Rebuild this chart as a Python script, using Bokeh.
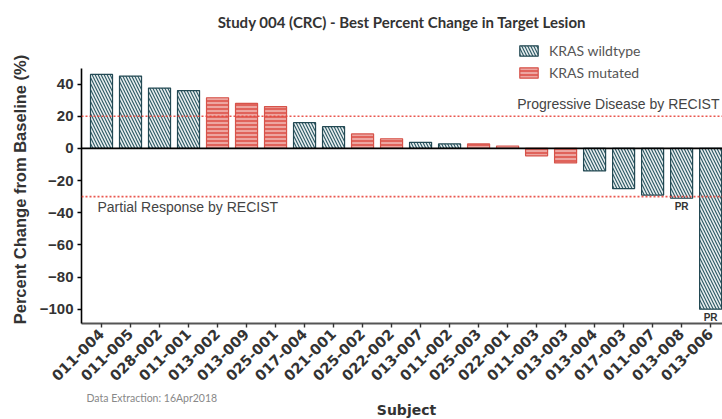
import numpy as np
from bokeh.plotting import figure
from bokeh.models import ColumnDataSource, Span, Label, Legend, LegendItem
from bokeh.core.properties import value
from bokeh.embed import file_html
from bokeh.resources import INLINE

# ---- data ----
subjects = ["011-004", "011-005", "028-002", "011-001", "013-002", "013-009",
            "025-001", "017-004", "021-001", "025-002", "022-002", "013-007",
            "011-002", "025-003", "022-001", "011-003", "013-003", "013-004",
            "017-003", "011-007", "013-008", "013-006"]
pct_change = [46, 45, 37.5, 36, 31.5, 28, 26, 16, 13.5, 9, 6, 3.8,
              2.8, 2.8, 1.5, -4.6, -9, -14, -25, -29, -31, -100]
kras = ["wildtype"] * 4 + ["mutated"] * 3 + ["wildtype"] * 2 + ["mutated"] * 2 + \
       ["wildtype"] * 2 + ["mutated"] * 4 + ["wildtype"] * 5
response = [""] * 20 + ["PR", "PR"]
y_ticks = [-100, -80, -60, -40, -20, 0, 20, 40]
pd_threshold = 20
pr_threshold = -30

pos = list(range(1, len(subjects) + 1))

TEAL = "#2d5a65"
TEAL_LINE = "#234953"
RED = "#e0635b"
RED_LINE = "#d6534a"

p = figure(width=722, height=419, x_range=(0.31, 22.41), y_range=(-108.9, 66.5),
           output_backend="svg", toolbar_location=None,
           min_border_left=81, min_border_right=0, min_border_top=38, min_border_bottom=96)
p.outline_line_color = None
p.xgrid.visible = False
p.ygrid.visible = False
p.background_fill_color = "white"
p.border_fill_color = "white"

p.title.text = "Study 004 (CRC) - Best Percent Change in Target Lesion"
p.title.align = "center"
p.title.offset = 4
p.title.text_font = "Lato"
p.title.text_font_style = "bold"
p.title.text_font_size = "15px"
p.title.text_color = "#333333"
p.title.standoff = 21

def subset(kind):
    idx = [i for i, k in enumerate(kras) if k == kind]
    return ColumnDataSource(dict(x=[pos[i] for i in idx], top=[pct_change[i] for i in idx]))

r_wt = p.vbar(x="x", top="top", bottom=0, width=0.76, source=subset("wildtype"),
              fill_color=TEAL, line_color=TEAL_LINE, line_width=1.2,
              hatch_pattern="\\", hatch_color="white", hatch_scale=6, hatch_weight=1.6, hatch_alpha=0.9)
r_mu = p.vbar(x="x", top="top", bottom=0, width=0.76, source=subset("mutated"),
              fill_color=RED, line_color=RED_LINE, line_width=1.2,
              hatch_pattern="-", hatch_color="white", hatch_scale=4, hatch_weight=1.0, hatch_alpha=0.85)

# zero line and thresholds
p.add_layout(Span(location=0, dimension="width", line_color="black", line_width=1.6))
for th in (pd_threshold, pr_threshold):
    p.add_layout(Span(location=th, dimension="width", line_color="#e8453c",
                      line_width=1.6, line_dash="2 2", line_alpha=0.9))

p.add_layout(Label(x=638, x_units="screen", y=pd_threshold, text="Progressive Disease by RECIST",
                   text_align="right", text_baseline="bottom", y_offset=4,
                   text_font="Liberation Sans", text_font_size="14px", text_color="#444444"))
p.add_layout(Label(x=16, x_units="screen", y=pr_threshold, text="Partial Response by RECIST",
                   text_align="left", text_baseline="top", y_offset=-2,
                   text_font="Liberation Sans", text_font_size="14px", text_color="#444444"))

# PR labels
pr_src = ColumnDataSource(dict(x=[pos[i] for i, r in enumerate(response) if r],
                               y=[pct_change[i] for i, r in enumerate(response) if r],
                               t=[r for r in response if r]))
p.text(x="x", y="y", text="t", source=pr_src, text_align="center", text_baseline="top",
       y_offset=3, text_font=value("Liberation Sans"), text_font_size="10px",
       text_font_style="bold", text_color="#333333")

# axes
p.yaxis.ticker = y_ticks
p.yaxis.bounds = (-110, 50)
p.yaxis.axis_line_color = "black"
p.yaxis.axis_line_width = 1.6
p.yaxis.major_tick_line_color = "black"
p.yaxis.major_tick_line_width = 1.4
p.yaxis.major_tick_out = 4
p.yaxis.major_tick_in = 0
p.yaxis.minor_tick_line_color = None
p.yaxis.major_label_text_font = "Liberation Sans"
p.yaxis.major_label_text_font_style = "bold"
p.yaxis.major_label_text_font_size = "15px"
p.yaxis.major_label_text_color = "#333333"
p.yaxis.major_label_standoff = 4

p.xaxis.ticker = pos
p.xaxis.major_label_overrides = {x: s for x, s in zip(pos, subjects)}
p.xaxis.major_label_orientation = np.pi / 4
p.xaxis.axis_line_color = "#555555"
p.xaxis.axis_line_width = 1.8
p.xaxis.major_tick_line_color = "#333333"
p.xaxis.major_tick_line_width = 1.4
p.xaxis.major_tick_out = 4
p.xaxis.major_tick_in = 0
p.xaxis.minor_tick_line_color = None
p.xaxis.major_label_text_font = "DejaVu Sans"
p.xaxis.major_label_text_font_style = "bold"
p.xaxis.major_label_text_font_size = "14.5px"
p.xaxis.major_label_text_color = "#333333"
p.xaxis.major_label_standoff = 4

# axis titles placed in the side panels
p.add_layout(Label(x=1, y=134, x_units="screen", y_units="screen", angle=np.pi / 2,
                   text="Percent Change from Baseline (%)", text_align="center",
                   text_baseline="middle", text_font="Liberation Sans", text_font_style="bold",
                   text_font_size="16.5px", text_color="#333333"), "left")
p.add_layout(Label(x=325, y=-5, x_units="screen", y_units="screen",
                   text="Subject", text_align="center", text_baseline="middle",
                   text_font="DejaVu Sans", text_font_style="bold", text_font_size="14px",
                   text_color="#333333"), "below")
p.add_layout(Label(x=5, y=19, x_units="screen", y_units="screen",
                   text="Data Extraction: 16Apr2018", text_align="left", text_baseline="middle",
                   text_font="Lato", text_font_size="10.5px", text_color="#888888"), "below")

legend = Legend(items=[LegendItem(label="KRAS wildtype", renderers=[r_wt]),
                       LegendItem(label="KRAS mutated", renderers=[r_mu])],
                location=(436, 242), orientation="vertical",
                glyph_width=23, glyph_height=13, label_height=13, spacing=5,
                padding=0, margin=0, label_standoff=9,
                label_text_font="Lato", label_text_font_size="14px", label_text_color="#555555",
                border_line_color=None, background_fill_alpha=0)
p.add_layout(legend)

open("out.html", "w").write(file_html(p, INLINE))
